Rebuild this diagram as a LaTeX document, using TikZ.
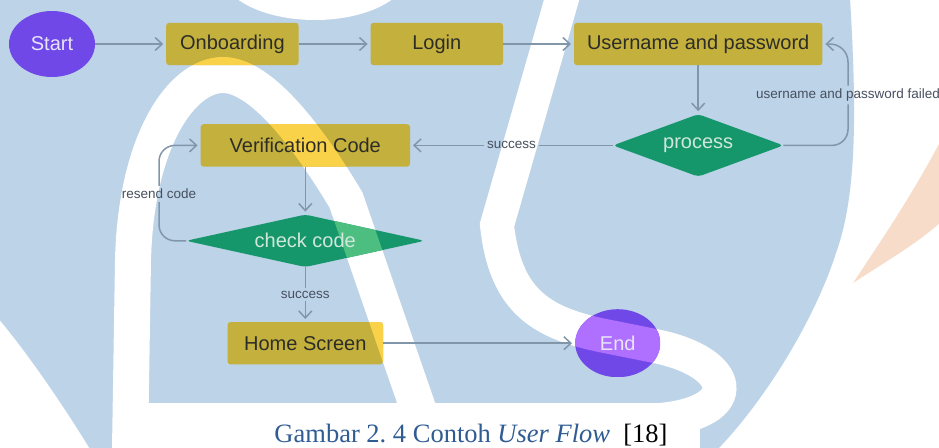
\documentclass[tikz,border=0pt]{standalone}
\usepackage{fontspec}
\usepackage{xcolor}
\usepackage{tikz}
\usetikzlibrary{arrows.meta, positioning, shapes.geometric, calc}

\setmainfont{Liberation Serif}
\newfontfamily\flowfont{Liberation Sans}

\definecolor{boxyellow}{RGB}{196,176,60}
\definecolor{glowyellow}{RGB}{250,210,74}
\definecolor{termpurple}{RGB}{112,72,232}
\definecolor{glowpurple}{RGB}{176,112,255}
\definecolor{decgreen}{RGB}{22,150,107}
\definecolor{glowgreen}{RGB}{76,190,128}
\definecolor{dectext}{RGB}{208,232,220}
\definecolor{termtext}{RGB}{232,228,250}
\definecolor{boxtext}{RGB}{45,45,40}
\definecolor{linegray}{RGB}{130,150,170}
\definecolor{lbltext}{RGB}{70,80,95}
\definecolor{wmblue}{RGB}{189,211,232}
\definecolor{wmorange}{RGB}{247,221,201}
\definecolor{capblue}{RGB}{48,92,148}

\pgfdeclarelayer{wm}
\pgfdeclarelayer{bg}
\pgfsetlayers{wm,bg,main}

% watermark strokes, also used for the light band across the nodes
\newcommand{\archpath}{(130,449) -- (133,260) .. controls (136,140) and (182,75) .. (223,75)
    .. controls (262,75) and (310,140) .. (346,200) -- (422,420)}
\newcommand{\esspath}{(563,-5) -- (497,225) .. controls (505,300) and (540,322) .. (600,335)
    -- (655,346) .. controls (735,362) and (745,412) .. (660,420)}

\begin{document}
\begin{tikzpicture}[
  x=1pt, y=-1pt,
  node distance=46pt and 71pt,
  >={Straight Barb[length=7pt, width=13pt]},
  font=\flowfont,
  block/.style={
    rectangle, text=boxtext,
    minimum height=42pt, inner sep=0pt,
    font=\flowfont\fontsize{20pt}{24pt}\selectfont,
  },
  term/.style={ellipse, text=termtext, inner sep=0pt,
    font=\flowfont\fontsize{20pt}{24pt}\selectfont},
  decide/.style={diamond, text=dectext, inner sep=0pt,
    font=\flowfont\fontsize{20pt}{24pt}\selectfont},
  conn/.style={draw=linegray, line width=1.5pt},
  flow/.style={conn, ->, shorten >=3pt},
  lbl/.style={text=lbltext, inner sep=3pt,
    font=\flowfont\fontsize{13.5pt}{16pt}\selectfont},
]
\useasboundingbox (0,0) rectangle (939,447);

% --- Top row ---
\node[term, minimum width=86pt, minimum height=66pt] (START) at (52,44) {Start};
\node[block, minimum width=132pt, right=71pt of START] (ONB) {Onboarding};
\node[block, minimum width=132pt, right=72pt of ONB] (LOGIN) {Login};
\node[block, minimum width=248pt, right=71pt of LOGIN] (USER) {Username and password};

% --- Decisions / checks ---
\node[decide, aspect=2.7, minimum width=170pt, minimum height=62pt, below=49pt of USER] (PROC) {process};
\node[block, minimum width=209pt, left=203pt of PROC] (VERIF) {Verification Code};
\node[decide, aspect=4.5, minimum width=238pt, minimum height=52pt, below=48pt of VERIF] (CHECK) {check code};

% --- Bottom row ---
\node[block, minimum width=155pt, below=55pt of CHECK] (HOME) {Home Screen};
\node[term, minimum width=85pt, minimum height=68pt, right=192pt of HOME] (END) {End};

% --- Labels ---
\node[lbl] (FAILED) at (848,95) {username and password failed};
\node[lbl] (SUCCA) at ($(PROC.west)!0.5!(PROC.west -| VERIF.east)$) {success};
\node[lbl] (RESEND) at (159,194) {resend code};
\node[lbl] (SUCCB) at ($(CHECK.south)!0.5!(HOME.north)$) {success};

% --- Arrows ---
\draw[flow] (START) -- (ONB);
\draw[flow] (ONB) -- (LOGIN);
\draw[flow] (LOGIN) -- (USER);
\draw[flow] (USER) -- (PROC);

\draw[conn, rounded corners=16pt] (PROC.east) -| (FAILED.south);
\draw[flow, rounded corners=18pt] (FAILED.north) |- (USER.east);
\draw[conn] (PROC.west) -- (SUCCA);
\draw[flow] (SUCCA) -- (PROC.west -| VERIF.east);

\draw[flow] (VERIF) -- (CHECK);
\draw[conn, rounded corners=16pt] (CHECK.west) -| (RESEND.south);
\draw[flow, rounded corners=16pt] (RESEND.north) |- (VERIF.west);
\draw[conn] (CHECK) -- (SUCCB);
\draw[flow] (SUCCB) -- (HOME);
\draw[flow] (HOME) -- (END);

% --- Node fills (light where the watermark band crosses) ---
\begin{pgfonlayer}{bg}
  \foreach \n in {ONB, LOGIN, USER, VERIF, HOME}
    \fill[boxyellow, rounded corners=3pt] (\n.south west) rectangle (\n.north east);
  \foreach \n in {ONB, VERIF, HOME} {
    \begin{scope}
      \clip[rounded corners=3pt] (\n.south west) rectangle (\n.north east);
      \draw[glowyellow, line width=36pt] \archpath;
    \end{scope}
  }
  \fill[termpurple] (START) ellipse [x radius=43pt, y radius=33pt];
  \begin{scope}
    \clip (END) ellipse [x radius=42.5pt, y radius=34pt];
    \fill[termpurple] (END.west |- END.north) rectangle (END.east |- END.south);
    \draw[glowpurple, line width=34pt] \esspath;
  \end{scope}
  \fill[decgreen, rounded corners=4pt] (PROC.north) -- (PROC.east) -- (PROC.south) -- (PROC.west) -- cycle;
  \begin{scope}
    \clip[rounded corners=4pt] (CHECK.north) -- (CHECK.east) -- (CHECK.south) -- (CHECK.west) -- cycle;
    \fill[decgreen] (CHECK.west |- CHECK.north) rectangle (CHECK.east |- CHECK.south);
    \draw[glowgreen, line width=36pt] \archpath;
  \end{scope}
\end{pgfonlayer}

% --- Watermark ---
\begin{pgfonlayer}{wm}
  \fill[white] (0,0) rectangle (939,447);
  \fill[wmblue] (-2,-2) -- (850,-2) .. controls (856,100) and (858,190) .. (837,250)
    .. controls (815,320) and (765,400) .. (718,449) -- (90,449)
    .. controls (60,400) and (25,350) .. (-2,318) -- cycle;
  \draw[white, line width=36pt] \archpath;
  \draw[white, line width=34pt] \esspath;
  \fill[white] (113,403) rectangle (700,449);
  \fill[white] (315,-28) ellipse [x radius=94pt, y radius=48pt];
  \fill[wmorange] (941,140) .. controls (915,190) and (885,235) .. (853,283)
    .. controls (885,262) and (915,245) .. (941,222) -- cycle;
\end{pgfonlayer}

% --- Caption ---
\node[anchor=base, text=capblue, font=\fontsize{26.5pt}{30pt}\selectfont\frenchspacing] (CAP) at (471,442)
  {Gambar 2. 4 Contoh \textit{User Flow}\hspace{0.5em}\textcolor{black}{[18]}};

\end{tikzpicture}
\end{document}
